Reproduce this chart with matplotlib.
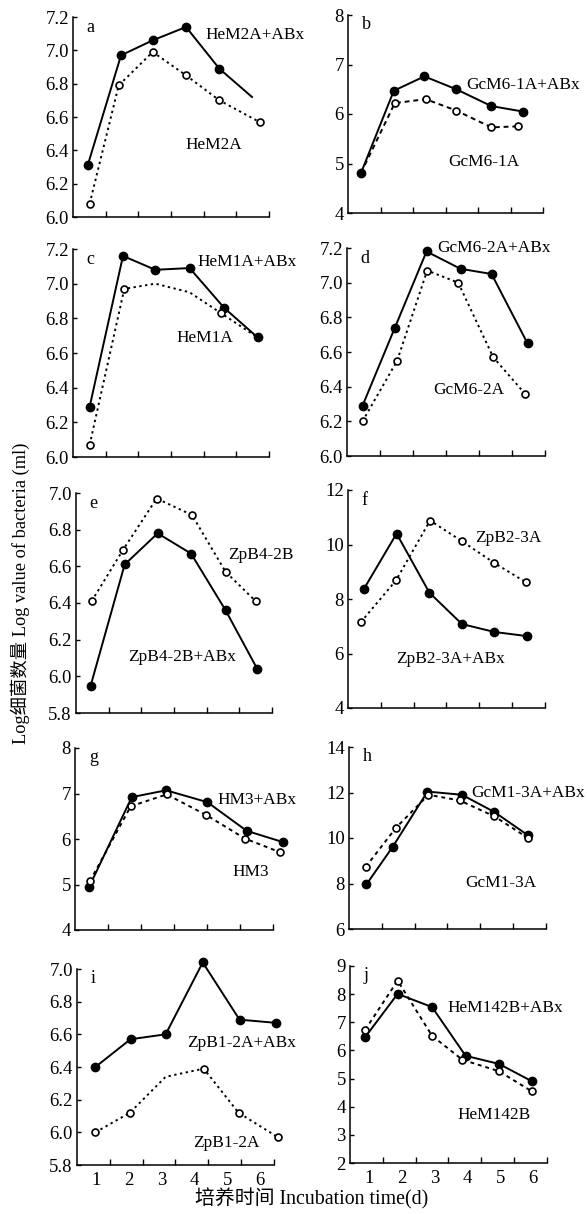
import matplotlib
matplotlib.use("Agg")
import matplotlib.pyplot as plt
import numpy as np

plt.rcParams['font.family'] = ['Liberation Serif', 'Noto Sans CJK SC']
plt.rcParams['axes.unicode_minus'] = False

# Values (x = incubation day as drawn, y = log count)
days = [1, 2, 3, 4, 5, 6]
tick_pos = [1.42, 2.42, 3.42, 4.42, 5.42, 6.42]

a_abx_x = [0.87, 1.89, 2.86, 3.88, 4.90, 5.90]
a_abx_y = [6.31, 6.97, 7.06, 7.14, 6.89, 6.72]
a_ctl_x = [0.93, 1.82, 2.86, 3.88, 4.90, 6.13]
a_ctl_y = [6.08, 6.79, 6.99, 6.85, 6.70, 6.57]

b_abx_x = [0.82, 1.83, 2.77, 3.75, 4.83, 5.80]
b_abx_y = [4.81, 6.47, 6.76, 6.50, 6.16, 6.05]
b_ctl_x = [0.82, 1.86, 2.81, 3.75, 4.83, 5.64]
b_ctl_y = [4.81, 6.22, 6.30, 6.07, 5.73, 5.75]

c_abx_x = [0.93, 1.95, 2.94, 3.99, 5.05, 6.07]
c_abx_y = [6.29, 7.16, 7.08, 7.09, 6.86, 6.69]
c_ctl_x = [0.93, 1.99, 2.94, 3.99, 4.95, 6.07]
c_ctl_y = [6.07, 6.97, 7.00, 6.95, 6.83, 6.69]

d_abx_x = [0.89, 1.87, 2.83, 3.86, 4.80, 5.89]
d_abx_y = [6.29, 6.74, 7.18, 7.08, 7.05, 6.65]
d_ctl_x = [0.89, 1.94, 2.85, 3.79, 4.85, 5.81]
d_ctl_y = [6.20, 6.55, 7.07, 7.00, 6.57, 6.36]

e_abx_x = [0.87, 1.91, 2.92, 3.94, 5.00, 5.97]
e_abx_y = [5.95, 6.61, 6.78, 6.67, 6.36, 6.04]
e_ctl_x = [0.90, 1.86, 2.89, 3.97, 5.00, 5.92]
e_ctl_y = [6.41, 6.69, 6.97, 6.88, 6.57, 6.41]

f_abx_x = [0.90, 1.90, 2.90, 3.89, 4.88, 5.86]
f_abx_y = [8.36, 10.40, 8.23, 7.08, 6.79, 6.64]
f_ctl_x = [0.81, 1.88, 2.92, 3.89, 4.88, 5.83]
f_ctl_y = [7.15, 8.68, 10.88, 10.12, 9.32, 8.62]

g_abx_x = [0.85, 2.14, 3.18, 4.43, 5.62, 6.73]
g_abx_y = [4.95, 6.92, 7.07, 6.81, 6.18, 5.93]
g_ctl_x = [0.87, 2.11, 3.20, 4.39, 5.57, 6.63]
g_ctl_y = [5.07, 6.72, 6.98, 6.53, 6.01, 5.71]

h_abx_x = [0.95, 1.75, 2.81, 3.86, 4.85, 5.87]
h_abx_y = [7.96, 9.61, 12.04, 11.90, 11.14, 10.12]
h_ctl_x = [0.93, 1.85, 2.84, 3.79, 4.85, 5.87]
h_ctl_y = [8.73, 10.45, 11.90, 11.65, 10.95, 10.00]

i_abx_x = [0.98, 2.05, 3.12, 4.25, 5.37, 6.49]
i_abx_y = [6.40, 6.57, 6.60, 7.04, 6.69, 6.67]
i_ctl_x = [0.98, 2.03, 3.12, 4.28, 5.34, 6.54]
i_ctl_y = [6.00, 6.12, 6.34, 6.39, 6.12, 5.97]

j_abx_x = [0.88, 1.87, 2.92, 3.94, 4.96, 5.95]
j_abx_y = [6.47, 8.01, 7.54, 5.81, 5.52, 4.91]
j_ctl_x = [0.88, 1.87, 2.92, 3.84, 4.96, 5.95]
j_ctl_y = [6.73, 8.48, 6.52, 5.67, 5.26, 4.55]

W, H = 587, 1214
fig = plt.figure(figsize=(W / 100, H / 100), dpi=100)


def px_axes(l, r, t, b):
    return fig.add_axes([l / W, 1 - b / H, (r - l) / W, (b - t) / H])


def ftext(x, y, s, **kw):
    fig.text(x / W, 1 - y / H, s, va='center', fontsize=12.4, **kw)


def panel(rect, letter, yticks, fmt, abx, ctl, bottom=False,
          abx_mark=None, ctl_mark=None, ctl_style=(0, (1.2, 1.8))):
    ax = px_axes(*rect)
    ax.plot(abx[0], abx[1], color='black', lw=1.4, marker='o', ms=6,
            mfc='black', mec='black', markevery=abx_mark, clip_on=False, zorder=3)
    ax.plot(ctl[0], ctl[1], color='black', lw=1.4, ls=ctl_style, marker='o', ms=5,
            mfc='white', mec='black', mew=1.2, markevery=ctl_mark,
            clip_on=False, zorder=4)
    ax.set_xlim(0.42, 6.42)
    ax.set_ylim(yticks[0], yticks[-1])
    ax.set_yticks(yticks)
    ax.set_yticklabels([fmt % v for v in yticks])
    ax.set_xticks(tick_pos, minor=True)
    ax.set_xticks(days)
    ax.set_xticklabels([str(d) for d in days] if bottom else [])
    ax.tick_params(axis='x', which='major', length=0, pad=5, labelsize=13.5)
    ax.tick_params(axis='x', which='minor', direction='in', length=4, width=1)
    ax.tick_params(axis='y', direction='in', length=3, width=1, pad=3, labelsize=13.5)
    for s in ['top', 'right']:
        ax.spines[s].set_visible(False)
    for s in ['left', 'bottom']:
        ax.spines[s].set_linewidth(1.1)
    ax.text(0.07, 0.95, letter, transform=ax.transAxes, fontsize=13,
            va='center', ha='left')
    return ax


dec = np.round(np.arange(6.0, 7.21, 0.2), 1)
dec_low = np.round(np.arange(5.8, 7.01, 0.2), 1)

panel((73, 269, 17, 217), 'a', dec, '%.1f', (a_abx_x, a_abx_y), (a_ctl_x, a_ctl_y),
      abx_mark=[0, 1, 2, 3, 4])
panel((348, 543, 15, 213), 'b', [4, 5, 6, 7, 8], '%d', (b_abx_x, b_abx_y),
      (b_ctl_x, b_ctl_y), ctl_mark=[1, 2, 3, 4, 5], ctl_style=(0, (2.5, 2)))
panel((73, 269, 249, 457), 'c', dec, '%.1f', (c_abx_x, c_abx_y), (c_ctl_x, c_ctl_y),
      ctl_mark=[0, 1, 4])
panel((347, 545, 248, 456), 'd', dec, '%.1f', (d_abx_x, d_abx_y), (d_ctl_x, d_ctl_y))
panel((76, 272, 493, 713), 'e', dec_low, '%.1f', (e_abx_x, e_abx_y), (e_ctl_x, e_ctl_y))
panel((348, 545, 490, 708), 'f', [4, 6, 8, 10, 12], '%d', (f_abx_x, f_abx_y),
      (f_ctl_x, f_ctl_y))
panel((75, 273, 748, 930), 'g', [4, 5, 6, 7, 8], '%d', (g_abx_x, g_abx_y),
      (g_ctl_x, g_ctl_y), ctl_style=(0, (2, 2)))
panel((349, 546, 747, 929), 'h', [6, 8, 10, 12, 14], '%d', (h_abx_x, h_abx_y),
      (h_ctl_x, h_ctl_y), ctl_style=(0, (2, 2)))
panel((77, 274, 969, 1165), 'i', dec_low, '%.1f', (i_abx_x, i_abx_y),
      (i_ctl_x, i_ctl_y), bottom=True, ctl_mark=[0, 1, 3, 4, 5])
panel((350, 547, 966, 1163), 'j', [2, 3, 4, 5, 6, 7, 8, 9], '%d', (j_abx_x, j_abx_y),
      (j_ctl_x, j_ctl_y), bottom=True, ctl_style=(0, (2, 2)))

# strain labels
ftext(205, 35, 'HeM2A+ABx')
ftext(185, 145, 'HeM2A')
ftext(466, 85, 'GcM6-1A+ABx')
ftext(448, 162, 'GcM6-1A')
ftext(197, 262, 'HeM1A+ABx')
ftext(176, 338, 'HeM1A')
ftext(437, 248, 'GcM6-2A+ABx')
ftext(433, 390, 'GcM6-2A')
ftext(228, 555, 'ZpB4-2B')
ftext(128, 657, 'ZpB4-2B+ABx')
ftext(475, 538, 'ZpB2-3A')
ftext(396, 659, 'ZpB2-3A+ABx')
ftext(217, 800, 'HM3+ABx')
ftext(232, 872, 'HM3')
ftext(471, 793, 'GcM1-3A+ABx')
ftext(465, 883, 'GcM1-3A')
ftext(187, 1043, 'ZpB1-2A+ABx')
ftext(193, 1143, 'ZpB1-2A')
ftext(447, 1008, 'HeM142B+ABx')
ftext(457, 1115, 'HeM142B')

fig.text(20 / W, 1 - 593 / H, 'Log细菌数量 Log value of bacteria (ml)', rotation=90,
         ha='center', va='center', fontsize=13.2)
fig.text(312 / W, 1 - 1199 / H, '培养时间 Incubation time(d)', ha='center',
         va='center', fontsize=14.3)

fig.savefig('out.png', dpi=100, facecolor='white')
